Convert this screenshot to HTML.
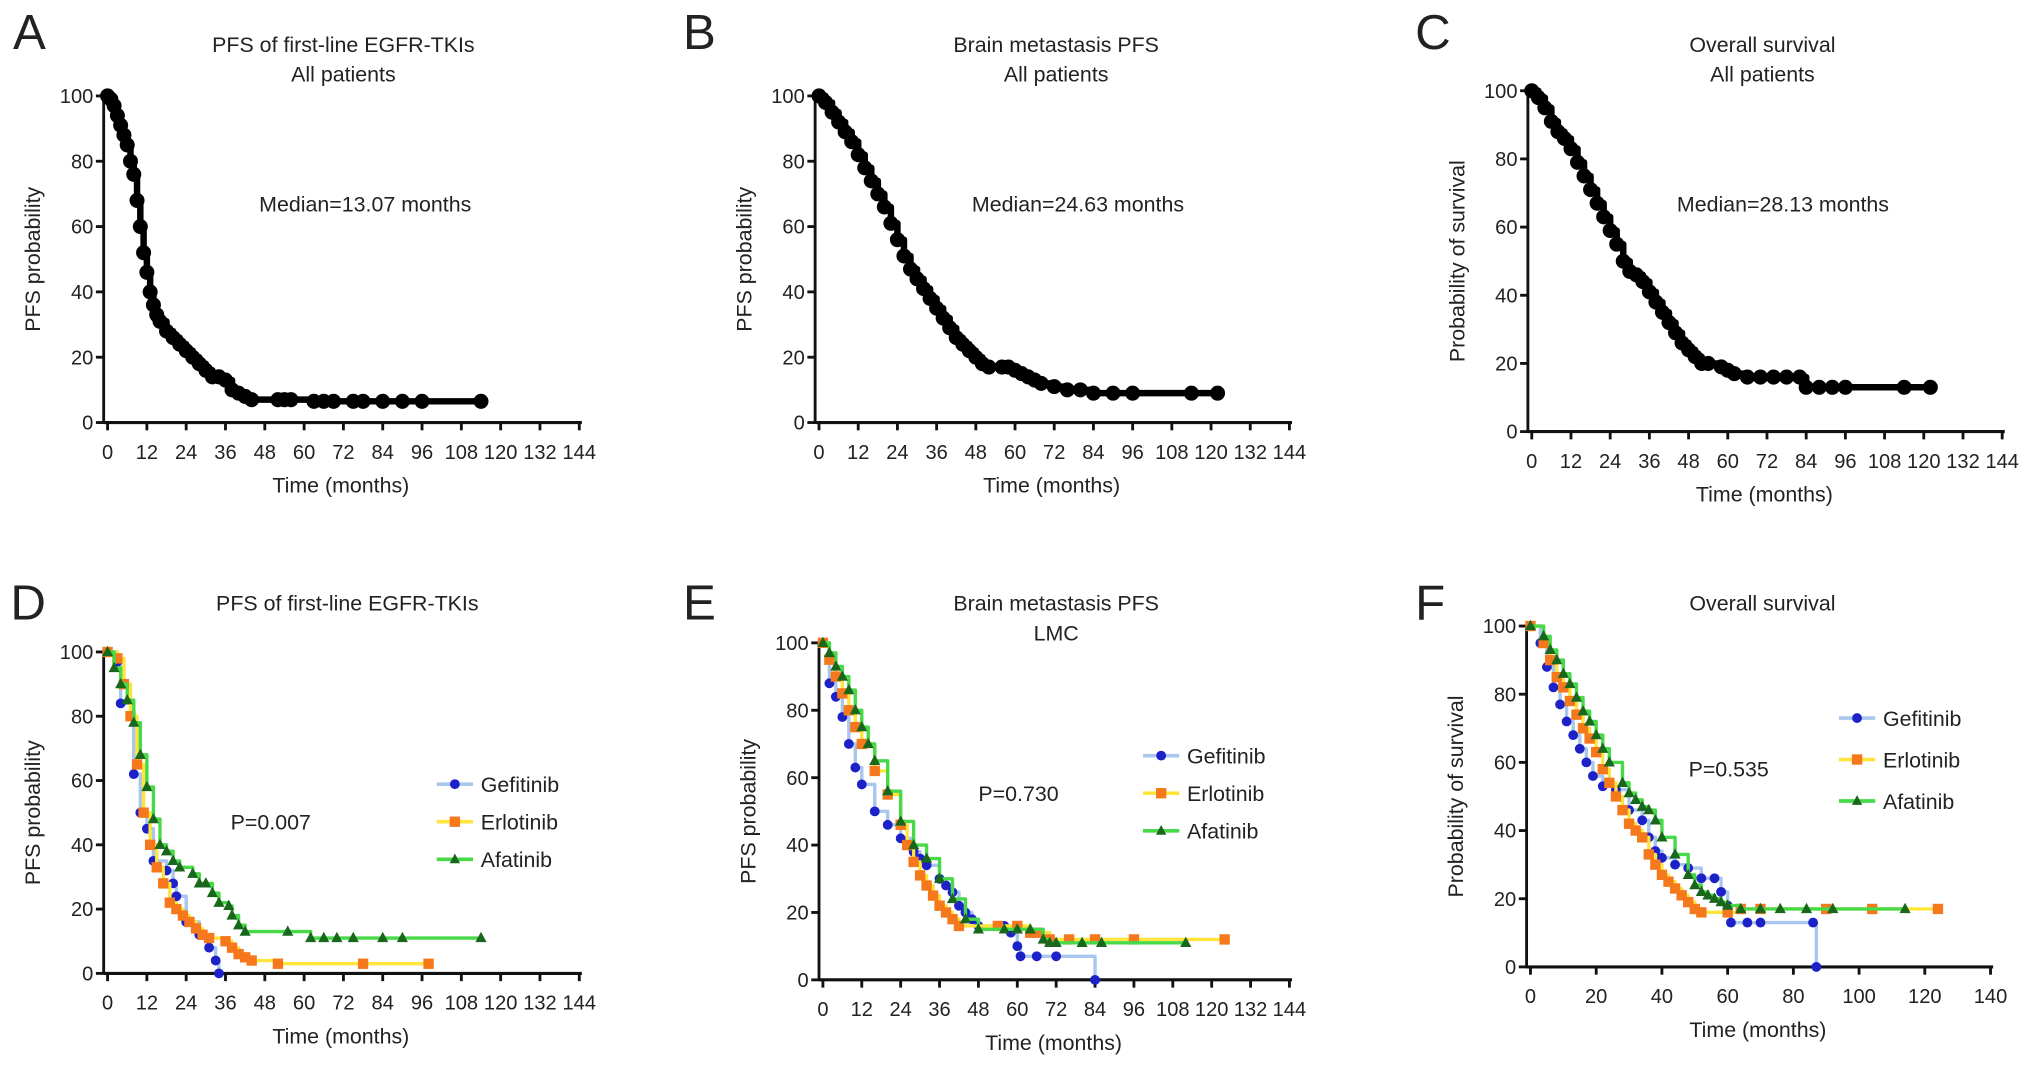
<!DOCTYPE html>
<html><head><meta charset="utf-8"><style>
html,body{margin:0;padding:0;background:#fff;}
svg{display:block;font-family:"Liberation Sans",Arial,sans-serif;}
</style></head><body>
<svg id="fig" width="2032" height="1068" viewBox="0 0 1568 824" preserveAspectRatio="none" xmlns="http://www.w3.org/2000/svg">
<rect width="1568" height="824" fill="#fff"/>
</svg>
<script>
// ---- data (time in months, probability %) ----
const aT=[0,1,2,3,4,5,6,7,8,9,10,11,12,13,14,15,16,18,20,22,24,26,28,30,32,34,36,38,40,42,44,52,54,56,63,66,69,75,78,84,90,96,114];
const aS=[100,99,97,94,91,88,85,80,76,68,60,52,46,40,36,33,31,28,26,24,22,20,18,16,14,14,13,10,9,8,7,7,7,7,6.5,6.5,6.5,6.5,6.5,6.5,6.5,6.5,6.5];
const bT=[0,2,4,6,8,10,12,14,16,18,20,22,24,26,28,30,32,34,36,38,40,42,44,46,48,50,52,56,58,60,62,64,66,68,72,76,80,84,90,96,114,122];
const bS=[100,98,95,92,89,86,82,78,74,70,66,61,56,51,47,44,41,38,35,32,29,26,24,22,20,18,17,17,17,16,15,14,13,12,11,10,10,9,9,9,9,9];
const cT=[0,2,4,6,8,10,12,14,16,18,20,22,24,26,28,30,32,34,36,38,40,42,44,46,48,50,52,54,58,60,62,66,70,74,78,82,84,88,92,96,114,122];
const cS=[100,98,95,91,88,86,83,79,75,71,67,63,59,55,50,47,46,44,41,38,35,32,29,26,24,22,20,20,19,18,17,16,16,16,16,16,13,13,13,13,13,13];
const dGefT=[0,3,4,8,10,12,14,18,20,21,24,28,31,33,34];
const dGefS=[100,97,84,62,50,45,35,32,28,24,16,12,8,4,0];
const dErlT=[0,3,5,7,9,11,13,15,17,19,21,23,25,27,29,31,36,38,40,42,44,52,78,98];
const dErlS=[100,98,90,80,65,50,40,33,28,22,20,18,16,14,12,11,10,8,6,5,4,3,3,3];
const dAfaT=[0,2,4,6,8,10,12,14,16,18,20,22,26,28,30,32,34,37,38,40,42,55,62,66,70,75,84,90,114];
const dAfaS=[100,95,90,85,78,68,58,48,40,38,35,33,31,28,28,25,22,21,18,15,13,13,11,11,11,11,11,11,11];
const eGefT=[0,2,4,6,8,10,12,16,20,24,28,30,32,36,38,40,42,44,46,48,56,58,60,61,66,72,84];
const eGefS=[100,88,84,78,70,63,58,50,46,42,38,36,34,30,28,26,22,20,18,16,16,14,10,7,7,7,0];
const eErlT=[0,2,4,6,8,10,12,16,20,24,26,28,30,32,34,36,38,40,42,54,60,64,66,70,76,84,96,124];
const eErlS=[100,95,90,85,80,75,70,62,55,46,40,35,31,28,25,22,20,18,16,16,16,14,14,12,12,12,12,12];
const eAfaT=[0,2,4,6,8,10,12,14,16,20,24,28,32,36,40,44,48,56,60,64,68,70,72,80,86,112];
const eAfaS=[100,97,93,90,86,80,75,70,65,56,47,40,36,30,24,18,15,15,15,15,12,11,11,11,11,11];
const fGefT=[0,3,5,7,9,11,13,15,17,19,22,26,30,34,36,38,40,44,48,52,56,58,60,61,66,70,86,87];
const fGefS=[100,95,88,82,77,72,68,64,60,56,53,52,46,43,38,34,32,30,29,26,26,22,18,13,13,13,13,0];
const fErlT=[0,4,6,8,10,12,14,16,18,20,22,24,26,28,30,32,34,36,38,40,42,44,46,48,50,52,60,64,70,90,104,124];
const fErlS=[100,95,90,85,82,78,74,70,67,63,58,54,50,46,42,40,38,33,30,27,25,23,21,19,17,16,16,17,17,17,17,17];
const fAfaT=[0,4,6,8,10,12,14,16,18,20,22,24,28,30,32,34,36,38,40,44,48,50,52,54,56,58,60,64,70,76,84,92,114];
const fAfaS=[100,97,93,90,86,83,79,75,72,68,64,60,54,51,49,47,46,43,38,33,27,24,22,21,20,19,18,17,17,17,17,17,17];
const ticks144=[0,12,24,36,48,60,72,84,96,108,120,132,144];
const ticks140=[0,20,40,60,80,100,120,140];
const yTicks=[0,20,40,60,80,100];

const NS="http://www.w3.org/2000/svg";
const svg=document.getElementById('fig');
function mk(tag,attrs,parent){const e=document.createElementNS(NS,tag);for(const k in attrs)e.setAttribute(k,attrs[k]);(parent||svg).appendChild(e);return e;}
function txt(s,x,y,size,anchor,parent,rot){const t=mk('text',{x:x,y:y,'font-size':size,'text-anchor':anchor||'middle',fill:'#222'},parent);if(rot)t.setAttribute('transform','rotate(-90 '+x+' '+y+')');t.textContent=s;return t;}

const COL={gef:{line:'#a9c6ee',mk:'#1c22c8'},erl:{line:'#ffe53b',mk:'#f5791c'},afa:{line:'#47d947',mk:'#18671c'},all:{line:'#000',mk:'#000'}};

function panel(cfg){
  const g=mk('g',{});
  
  
  const sx=v=>cfg.x0+(v/cfg.xmax)*(cfg.x1-cfg.x0);
  const sy=v=>cfg.y0-(v/100)*(cfg.y0-cfg.y100);
  const L=txt(cfg.letter,cfg.lx,cfg.ly,38,'start',g);
  
  cfg.title.forEach((s,i)=>{const t=txt(s,cfg.tx,cfg.ty+i*23,16.5,'middle',g);});
  const ax=mk('g',{},g);
  mk('line',{x1:cfg.x0-3,y1:cfg.y0,x2:cfg.x1+2,y2:cfg.y0,stroke:'#111','stroke-width':2.4},ax);
  mk('line',{x1:cfg.x0-3,y1:cfg.y0+1,x2:cfg.x0-3,y2:cfg.y100,stroke:'#111','stroke-width':2.2},ax);
  cfg.xt.forEach(v=>{const x=sx(v);mk('line',{x1:x,y1:cfg.y0,x2:x,y2:cfg.y0+6,stroke:'#111','stroke-width':2.2},ax);
    const t=txt(String(v),x,cfg.y0+28,15.5,'middle',ax);});
  yTicks.forEach(v=>{const y=sy(v);mk('line',{x1:cfg.x0-9,y1:y,x2:cfg.x0-3,y2:y,stroke:'#111','stroke-width':2.2},ax);
    const t=txt(String(v),cfg.x0-11,y+5.5,15.5,'end',ax);});
  const xl=txt('Time (months)',(cfg.x0+cfg.x1)/2-2,cfg.y0+54,16.5,'middle',g);
  const yl=txt(cfg.ylab,cfg.x0-52,(cfg.y0+cfg.y100)/2,16.5,'middle',g,true);
  const nt=txt(cfg.note,cfg.nx,cfg.ny,16.5,'start',g);
  cfg.series.forEach(s=>{
    const sg=mk('g',{},g);
    const c=COL[s.key];
    let d='M'+sx(s.t[0])+' '+sy(s.s[0]);
    for(let i=1;i<s.t.length;i++){d+=' H'+sx(s.t[i])+' V'+sy(s.s[i]);}
    const p=mk('path',{d:d,fill:'none',stroke:c.line,'stroke-width':s.key==='all'?5:2.6,'stroke-linejoin':'round'},sg);
    
    for(let i=0;i<s.t.length;i++){
      const x=sx(s.t[i]),y=sy(s.s[i]);let m;
      if(s.key==='all'||s.key==='gef')m=mk('circle',{cx:x,cy:y,r:s.key==='all'?5.8:3.8,fill:c.mk},sg);
      else if(s.key==='erl')m=mk('rect',{x:x-4,y:y-4,width:8,height:8,fill:c.mk},sg);
      else m=mk('polygon',{points:(x)+','+(y-4.8)+' '+(x-4.3)+','+(y+3.2)+' '+(x+4.3)+','+(y+3.2),fill:c.mk},sg);
      
    }
  });
  if(cfg.legend){
    const lg=mk('g',{},g);
    [['gef','Gefitinib'],['erl','Erlotinib'],['afa','Afatinib']].forEach((e,i)=>{
      const y=cfg.legend.y+i*cfg.legend.dy;const x=cfg.legend.x;const c=COL[e[0]];
      const eg=mk('g',{},lg);
      mk('line',{x1:x-14,y1:y,x2:x+14,y2:y,stroke:c.line,'stroke-width':2.8},eg);
      if(e[0]==='gef')mk('circle',{cx:x,cy:y,r:3.8,fill:c.mk},eg);
      else if(e[0]==='erl')mk('rect',{x:x-4,y:y-4,width:8,height:8,fill:c.mk},eg);
      else mk('polygon',{points:x+','+(y-4.5)+' '+(x-4)+','+(y+3)+' '+(x+4)+','+(y+3),fill:c.mk},eg);
      txt(e[1],x+20,y+6,16.5,'start',eg);
    });
  }
}
panel({name:'panel-a',letter:'A',lx:10,ly:38,title:['PFS of first-line EGFR-TKIs','All patients'],tx:265,ty:40,x0:83,x1:447,xmax:144,y0:326,y100:74,xt:ticks144,ylab:'PFS probability',note:'Median=13.07 months',nx:200,ny:163,series:[{key:'all',t:aT,s:aS}]});
panel({name:'panel-b',letter:'B',lx:527,ly:38,title:['Brain metastasis PFS','All patients'],tx:815,ty:40,x0:632,x1:995,xmax:144,y0:326,y100:74,xt:ticks144,ylab:'PFS probability',note:'Median=24.63 months',nx:750,ny:163,series:[{key:'all',t:bT,s:bS}]});
panel({name:'panel-c',letter:'C',lx:1092,ly:38,title:['Overall survival','All patients'],tx:1360,ty:40,x0:1182,x1:1545,xmax:144,y0:333,y100:70,xt:ticks144,ylab:'Probability of survival',note:'Median=28.13 months',nx:1294,ny:163,series:[{key:'all',t:cT,s:cS}]});
panel({name:'panel-d',letter:'D',lx:8,ly:478,title:['PFS of first-line EGFR-TKIs'],tx:268,ty:471,x0:83,x1:447,xmax:144,y0:751,y100:503,xt:ticks144,ylab:'PFS probability',note:'P=0.007',nx:178,ny:640,legend:{x:351,y:605,dy:29},series:[{key:'gef',t:dGefT,s:dGefS},{key:'erl',t:dErlT,s:dErlS},{key:'afa',t:dAfaT,s:dAfaS}]});
panel({name:'panel-e',letter:'E',lx:527,ly:478,title:['Brain metastasis PFS','LMC'],tx:815,ty:471,x0:635,x1:995,xmax:144,y0:756,y100:496,xt:ticks144,ylab:'PFS probability',note:'P=0.730',nx:755,ny:618,legend:{x:896,y:583,dy:29},series:[{key:'gef',t:eGefT,s:eGefS},{key:'erl',t:eErlT,s:eErlS},{key:'afa',t:eAfaT,s:eAfaS}]});
panel({name:'panel-f',letter:'F',lx:1092,ly:478,title:['Overall survival'],tx:1360,ty:471,x0:1181,x1:1536,xmax:140,y0:746,y100:483,xt:ticks140,ylab:'Probability of survival',note:'P=0.535',nx:1303,ny:599,legend:{x:1433,y:554,dy:32},series:[{key:'gef',t:fGefT,s:fGefS},{key:'erl',t:fErlT,s:fErlS},{key:'afa',t:fAfaT,s:fAfaS}]});
</script>
</body></html>
